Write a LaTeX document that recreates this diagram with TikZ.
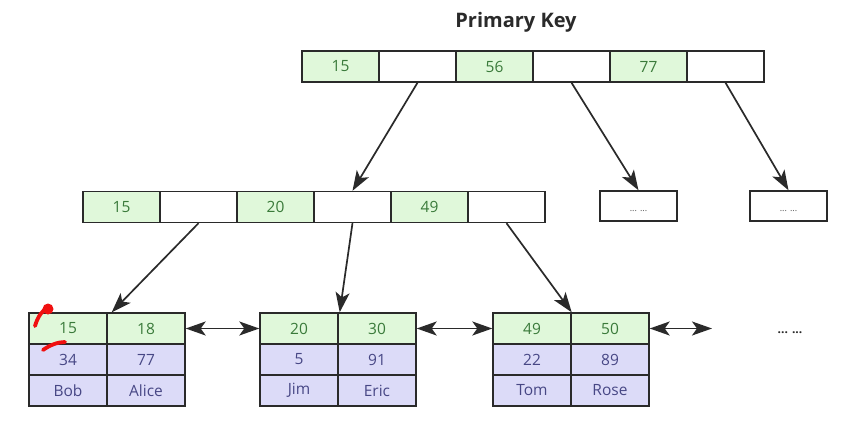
\documentclass[tikz,border=0pt]{standalone}
\usepackage{fontspec}
\setmainfont{Open Sans}
\usetikzlibrary{arrows.meta,calc}
\definecolor{linec}{HTML}{2A2A2A}
\definecolor{gfill}{HTML}{E0F8DA}
\definecolor{gtext}{HTML}{3A7A3A}
\definecolor{pfill}{HTML}{DCDBF8}
\definecolor{ptext}{HTML}{474785}
\definecolor{redmark}{HTML}{F01010}
\tikzset{
  cellbase/.style={draw=linec, line width=1.4pt, inner sep=0pt, font=\fontsize{15.5}{17}\selectfont},
  gcell/.style={cellbase, fill=gfill, text=gtext, minimum width=77pt, minimum height=31pt},
  wcell/.style={cellbase, fill=white, minimum width=77pt, minimum height=31pt},
  lgcell/.style={cellbase, fill=gfill, text=gtext, minimum width=78pt, minimum height=31pt},
  lpcell/.style={cellbase, fill=pfill, text=ptext, minimum width=78pt, minimum height=31pt},
  dotbox/.style={cellbase, fill=white, minimum width=77pt, minimum height=30pt},
  dottext/.style={text=black!65, font=\fontsize{9}{10}\selectfont, inner sep=0pt},
  tip/.tip={Stealth[length=20pt,width=14pt,inset=5pt]},
  treearrow/.style={draw=linec, line width=1.7pt, -tip},
  linkarrow/.style={draw=linec, line width=1.7pt, tip-tip},
  redstroke/.style={draw=redmark, line width=3.8pt, line cap=round}
}
\begin{document}
\begin{tikzpicture}[x=1pt,y=-1pt]
\useasboundingbox[fill=white] (0,0) rectangle (854,428);
\node[font=\bfseries\fontsize{20}{23}\selectfont, text=linec] (title) at (516,22) {Primary Key};
% top row
\node[gcell] (t1) at (340.5,66.5) {15};
\node[wcell] (t2) at (417.5,66.5) {};
\node[gcell] (t3) at (494.5,66.5) {56};
\node[wcell] (t4) at (571.5,66.5) {};
\node[gcell] (t5) at (648.5,66.5) {77};
\node[wcell] (t6) at (725.5,66.5) {};
% middle row
\node[gcell] (m1) at (121.5,207) {15};
\node[wcell] (m2) at (198.5,207) {};
\node[gcell] (m3) at (275.5,207) {20};
\node[wcell] (m4) at (352.5,207) {};
\node[gcell] (m5) at (429.5,207) {49};
\node[wcell] (m6) at (506.5,207) {};
\node[dotbox] (d1) at (638.5,206) {};
\node[dotbox] (d2) at (788.5,206) {};
\node[dottext] (d1t) at (638.5,211) {... ...};
\node[dottext] (d2t) at (788.5,211) {... ...};
% leaf 1
\node[lgcell] (l1a) at (68,328.5) {15};
\node[lgcell] (l1b) at (146,328.5) {18};
\node[lpcell] (l1c) at (68,359.5) {34};
\node[lpcell] (l1d) at (146,359.5) {77};
\node[lpcell] (l1e) at (68,390.5) {Bob};
\node[lpcell] (l1f) at (146,390.5) {Alice};
% leaf 2
\node[lgcell] (l2a) at (299,328.5) {20};
\node[lgcell] (l2b) at (377,328.5) {30};
\node[lpcell] (l2c) at (299,359.5) {5};
\node[lpcell] (l2d) at (377,359.5) {91};
\node[lpcell] (l2e) at (299,390.5) {Jim};
\node[lpcell] (l2f) at (377,390.5) {Eric};
% leaf 3
\node[lgcell] (l3a) at (532,328.5) {49};
\node[lgcell] (l3b) at (610,328.5) {50};
\node[lpcell] (l3c) at (532,359.5) {22};
\node[lpcell] (l3d) at (610,359.5) {89};
\node[lpcell] (l3e) at (532,390.5) {Tom};
\node[lpcell] (l3f) at (610,390.5) {Rose};
\node[text=linec, font=\bfseries\fontsize{12}{14}\selectfont] (more) at (790,333) {... ...};
\coordinate (linkend) at (712,328.5);
% tree arrows
\draw[treearrow] (t2.south) -- (m4.north);
\draw[treearrow] (t4.south) -- (d1.north);
\draw[treearrow] (t6.south) -- (d2.north);
\draw[treearrow] (m2.south) -- ($(l1a.north east)+(4,0)$);
\draw[treearrow] (m4.south) -- ($(l2a.north east)+(1,0)$);
\draw[treearrow] (m6.south) -- (l3a.north east);
% leaf links
\draw[linkarrow] (l1b.east) -- (l2a.west);
\draw[linkarrow] (l2b.east) -- (l3a.west);
\draw[linkarrow] (l3b.east) -- (linkend);
% red hand marks
\draw[redstroke] (35,326) .. controls (38,316) and (42,311) .. (48,307);
\fill[redmark] (48,309) circle (5.5pt);
\draw[redstroke] (43,350) .. controls (50,345) and (58,342) .. (65,342);
\end{tikzpicture}
\end{document}
